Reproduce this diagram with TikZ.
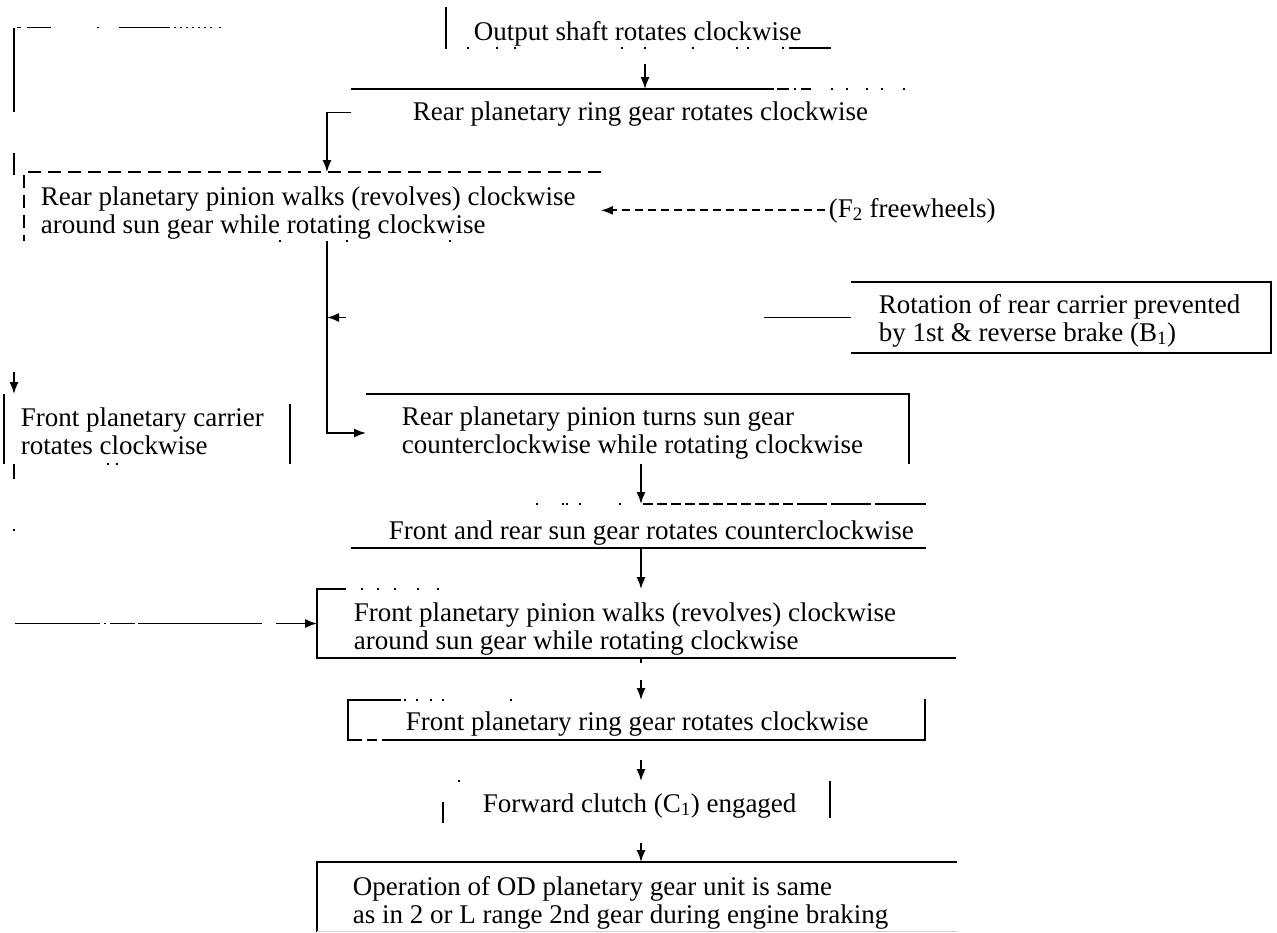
\documentclass[tikz,border=0pt]{standalone}
\usepackage{fontspec}
\setmainfont{Liberation Serif}
\usetikzlibrary{arrows.meta,fit}
\begin{document}
\begin{tikzpicture}[x=1pt,y=-1pt,
  line width=1.8pt,
  every node/.style={inner sep=0pt},
  frame/.style={inner sep=0pt, draw=none},
  lbl/.style={anchor=base west, align=left, font=\fontsize{27}{28}\selectfont},
  arr/.style={-{Latex[length=12pt,width=9pt]}},
]
\useasboundingbox (0,0) rectangle (1277,932);

% columns used by the connectors
\coordinate (colA) at (645,0);
\coordinate (colB) at (641,0);
\coordinate (spine) at (327,0);
\coordinate (lrail) at (14,0);

% box outlines (geometry only)
\node[frame, fit={(447,8) (830,47)}] (out) {};
\node[frame, fit={(352,90) (907,135)}] (ring) {};
\node[frame, fit={(25,173) (600,240)}] (rpw) {};
\node[frame, fit={(852,283) (1270,352)}] (b1) {};
\node[frame, fit={(5,395) (289,463)}] (fc) {};
\node[frame, fit={(367,395) (908,463)}] (rpt) {};
\node[frame, fit={(352,505) (925,547)}] (sun) {};
\node[frame, fit={(318,590) (955,657)}] (fpw) {};
\node[frame, fit={(349,701) (924,739)}] (fring) {};
\node[frame, fit={(444,782) (829,822)}] (fwd) {};
\node[frame, fit={(318,863) (956,931)}] (od) {};

% texts (base anchor = baseline of the last line)
\node[lbl] (out-t) at (473,40) {Output shaft rotates clockwise};
\node[lbl] (ring-t) at (412,120) {Rear planetary ring gear rotates clockwise};
\node[lbl] (rpw-t) at (40,233) {Rear planetary pinion walks (revolves) clockwise\\around sun gear while rotating clockwise};
\node[lbl] (f2) at (828,217) {(F\textsubscript{2} freewheels)};
\node[lbl] (b1-t) at (878,341) {Rotation of rear carrier prevented\\by 1st \& reverse brake (B\textsubscript{1})};
\node[lbl] (fc-t) at (20,454) {Front planetary carrier\\rotates clockwise};
\node[lbl] (rpt-t) at (401,453) {Rear planetary pinion turns sun gear\\counterclockwise while rotating clockwise};
\node[lbl] (sun-t) at (388,539) {Front and rear sun gear rotates counterclockwise};
\node[lbl] (fpw-t) at (353,649) {Front planetary pinion walks (revolves) clockwise\\around sun gear while rotating clockwise};
\node[lbl] (fring-t) at (405,730) {Front planetary ring gear rotates clockwise};
\node[lbl] (fwd-t) at (482,812) {Forward clutch (C\textsubscript{1}) engaged};
\node[lbl] (od-t) at (352,923) {Operation of OD planetary gear unit is same\\as in 2 or L range 2nd gear during engine braking};

% worn box borders
\draw (out.north west) -- ([yshift=-1pt]out.south west);
\draw[dash pattern=on 0pt off 21pt on 2pt off 27pt on 2pt off 16pt on 2pt off 105pt on 2pt off 21pt on 2pt off 46pt on 2pt off 42pt on 2pt off 9pt on 2pt off 33pt on 2pt off 5pt on 60pt]
  (out.south west) -- (out.south east);
\draw[dash pattern=on 423pt off 3pt on 12pt off 5pt on 2pt off 5pt on 10pt off 20pt on 2pt off 13pt on 2pt off 18pt on 2pt off 13pt on 2pt off 20pt on 2pt off 10pt]
  (ring.north west) -- (ring.north east);
\draw[dash pattern=on 13pt off 7pt] (rpw.north east) -- (rpw.north west) -- (rpw.south west);
\draw[dash pattern=on 0pt off 255pt on 2pt off 65pt on 2pt off 101pt on 2pt off 400pt] (rpw.south west) -- (rpw.south east);
\draw (b1.north west) -- (b1.north east) -- (b1.south east) -- (b1.south west);
\draw (fc.north west) -- (fc.south west);
\draw ([yshift=-10pt]fc.north east) -- (fc.south east);
\draw[dash pattern=on 0pt off 103pt on 2pt off 7pt on 2pt off 400pt] (fc.south west) -- (fc.south east);
\draw (rpt.north west) -- (rpt.north east) -- (rpt.south east);
\draw (sun.south west) -- (sun.south east);
\draw[dash pattern=on 0pt off 185pt on 2pt off 24pt on 2pt off 2pt on 2pt off 11pt on 2pt off 38pt on 2pt off 22pt
  on 10pt off 4pt on 10pt off 4pt on 10pt off 4pt on 10pt off 4pt on 10pt off 4pt on 10pt off 4pt
  on 10pt off 4pt on 10pt off 4pt on 10pt off 4pt on 10pt off 4pt on 10pt off 4pt on 30pt off 4pt on 40pt off 4pt on 80pt]
  (sun.north west) -- (sun.north east);
\draw[dash pattern=on 736pt off 15pt on 2pt off 14pt on 2pt off 15pt on 2pt off 21pt on 2pt off 18pt on 2pt off 1000pt]
  (fpw.south east) -- (fpw.south west) -- (fpw.north west) -- (fpw.north east);
\draw[dash pattern=on 2pt off 66pt on 2pt off 10pt on 2pt off 12pt on 2pt off 10pt on 2pt off 3pt on 107pt off 5pt on 10pt off 5pt on 2000pt]
  ([xshift=164pt]fring.north west) -- (fring.north west) -- (fring.south west) -- (fring.south east) -- ([yshift=1pt]fring.north east);
\draw ([yshift=-21pt]fwd.north west) -- (fwd.south west);
\draw (fwd.north east) -- ([yshift=5pt]fwd.south east);
\draw[dash pattern=on 0pt off 15pt on 2pt off 500pt] (fwd.north west) -- (fwd.north east);
\draw (od.south west) -- (od.north west) -- (od.north east);
\draw[gray!35, line width=1pt] (od.south west) -- (od.south east);

% connectors
\draw[arr, dash pattern=on 0pt off 16pt on 40pt] (out.south -| colA) -- (ring.north -| colA);
\draw[arr] (ring.west) -| (spine |- rpw.north);
\draw[arr, dash pattern=on 8pt off 5pt] ([xshift=-3pt]f2.west) -- (f2.west -| rpw.east);
\draw[arr] (rpw.south -| spine) |- ([yshift=-4pt]rpt.west);
\draw[arr, dash pattern=on 87pt off 418pt on 40pt] (b1.west) -- (b1.west -| spine);
\draw[arr] (rpt.south -| colB) -- (sun.north -| colB);
\draw[arr] (sun.south -| colB) -- (fpw.north -| colB);
\draw[arr, dash pattern=on 5pt off 17pt on 40pt] (fpw.south -| colB) -- (fring.north -| colB);
\draw[arr, dash pattern=on 0pt off 20pt on 40pt] (fring.south -| colB) -- (fwd.north -| colB);
\draw[arr, dash pattern=on 0pt off 20pt on 40pt] (fwd.south -| colB) -- (od.north -| colB);
\draw[arr, dash pattern=on 0pt off 225pt on 2pt off 7pt on 2pt off 4pt on 2pt off 4pt on 2pt off 4pt on 2pt off 4pt on 2pt off 4pt on 2pt off 4pt on 2pt off 4pt on 51pt off 20pt on 2pt off 46pt on 24pt off 6pt on 4pt off 4pt on 84pt off 41pt on 22pt off 197pt on 40pt]
  (out.west) -| (lrail |- fc.north);
\draw[arr, dash pattern=on 15pt off 50pt on 2pt off 94pt on 85pt off 4pt on 2pt off 4pt on 25pt off 3pt on 124pt off 14pt on 60pt]
  (fc.south -| lrail) |- (fpw.west);
\end{tikzpicture}
\end{document}
